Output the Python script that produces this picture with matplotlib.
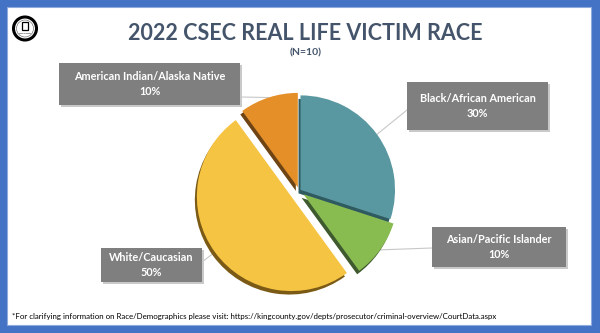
import matplotlib.pyplot as plt
from matplotlib.patches import Rectangle, Circle
import numpy as np

plt.rcParams['font.family'] = ['Lato', 'DejaVu Sans']

# victim race breakdown, clockwise from 12 o'clock
races = ["Black/African American", "Asian/Pacific Islander",
         "White/Caucasian", "American Indian/Alaska Native"]
counts = [3, 1, 5, 1]
percents = [30, 10, 50, 10]
n_total = 10

colors = ["#5A98A1", "#88BB50", "#F6C443", "#E48F28"]
shadow_colors = ["#2E5A60", "#3E5A2E", "#7A5A14", "#6E4414"]
explode = [0.02, 0.06, 0.10, 0.04]

# label boxes in pixel space: (x0, y0, x1, y1) and where the leader leaves the box
boxes = [(407, 82, 548, 130), (432, 227, 566, 267),
         (101, 248, 202, 282), (59, 63, 240, 105)]
leader_start = [(407, 110), (432, 248), (202, 262), (240, 97)]

navy = "#44546A"
frame_blue = "#4472C4"

fig = plt.figure(figsize=(6, 3.33), dpi=100)
fig.patch.set_facecolor(frame_blue)
ax = fig.add_axes([0, 0, 1, 1])

# white slide panel
ax.add_patch(Rectangle((7, 7), 584, 318, facecolor="white",
                       edgecolor="#8FAADC", lw=0.8, zorder=0))

# logo
ax.add_patch(Circle((25, 28.5), 11.5, facecolor="white", edgecolor="black",
                    lw=2.2, zorder=2))
ax.add_patch(Circle((25, 28.5), 8.5, facecolor="none", edgecolor="#555555",
                    lw=0.4, zorder=2))
ax.add_patch(Rectangle((22, 22), 6, 8, facecolor="none", edgecolor="black",
                       lw=0.9, zorder=3))
ax.text(25, 33.5, "King County", fontsize=1.6, ha='center', va='center',
        color="black", zorder=3)

ax.text(305, 33.5, "2022 CSEC REAL LIFE VICTIM RACE", fontsize=15.5,
        fontweight='bold', color=navy, ha='center', va='center')
ax.text(306, 52.5, "(N=%d)" % n_total, fontsize=7.5, fontweight='bold',
        color=navy, ha='center', va='center')

center = (299, 191)
radius = 94.5
offsets = [e * radius for e in explode]

# drop shadow pie, then the main pie on top
ax.pie(counts, colors=shadow_colors, explode=offsets, radius=radius,
       center=(center[0] - 2, center[1] + 3.5), startangle=-90,
       counterclock=True, wedgeprops=dict(linewidth=0, zorder=3),
       frame=True)
wedges, _ = ax.pie(counts, colors=colors, explode=offsets, radius=radius,
                   center=center, startangle=-90, counterclock=True,
                   wedgeprops=dict(linewidth=0, zorder=4), frame=True)

ax.set_xlim(0, 600)
ax.set_ylim(333, 0)
ax.set_aspect('auto')
ax.axis('off')

for w, name, pct, (x0, y0, x1, y1), (lx, ly) in zip(
        wedges, races, percents, boxes, leader_start):
    mid = np.deg2rad((w.theta1 + w.theta2) / 2)
    px = w.center[0] + w.r * np.cos(mid)
    py = w.center[1] + w.r * np.sin(mid)
    ax.plot([lx, px], [ly, py], color="#C8C8C8", lw=0.8, zorder=2)
    ax.add_patch(Rectangle((x0 + 1.5, y0 + 1.5), x1 - x0, y1 - y0,
                           facecolor="#C9C9C9", lw=0, zorder=5))
    ax.add_patch(Rectangle((x0, y0), x1 - x0, y1 - y0,
                           facecolor="#7F7F7F", lw=0, zorder=6))
    ax.text((x0 + x1) / 2, (y0 + y1) / 2, "%s\n%d%%" % (name, pct),
            fontsize=7.8, fontweight='bold', color="white", ha='center',
            va='center', linespacing=1.45, zorder=7)

ax.text(12, 317, "*For clarifying information on Race/Demographics please visit: "
        "https://kingcounty.gov/depts/prosecutor/criminal-overview/CourtData.aspx",
        fontsize=5.65, color="black", ha='left', va='center')

plt.savefig("out.png", dpi=100, facecolor=frame_blue)
